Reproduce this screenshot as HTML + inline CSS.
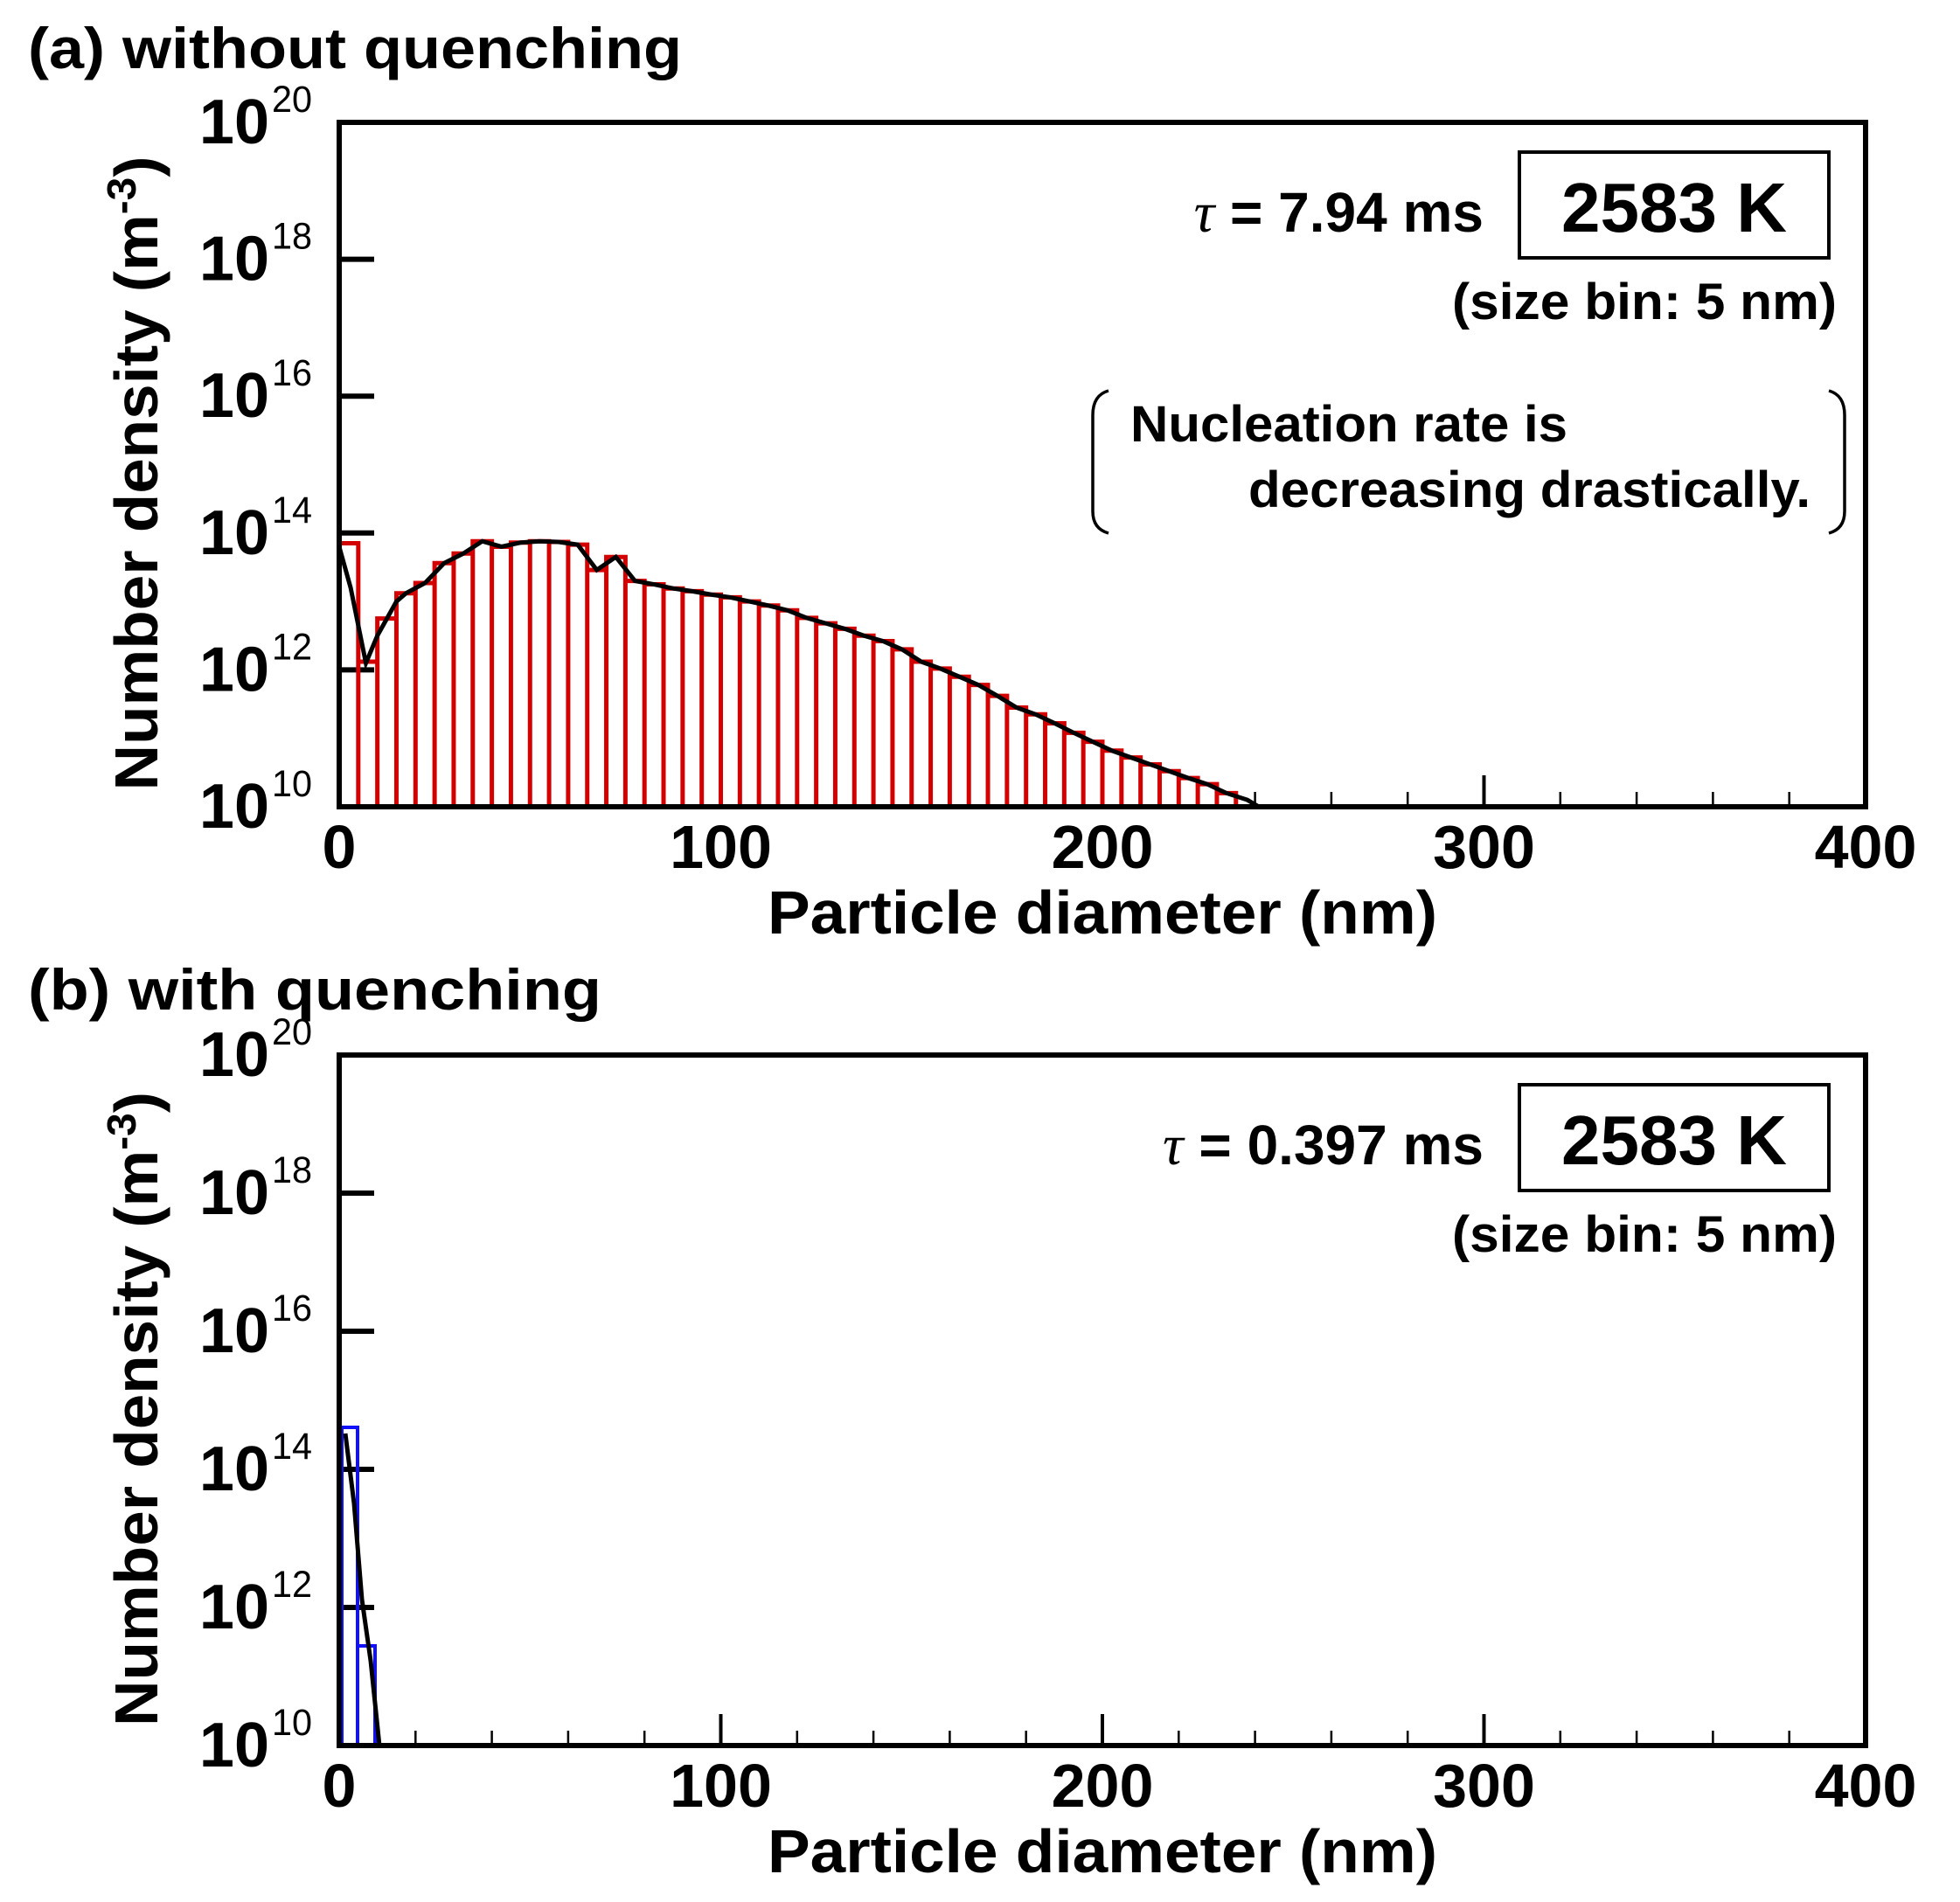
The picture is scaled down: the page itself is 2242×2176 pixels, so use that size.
<!DOCTYPE html>
<html><head><meta charset="utf-8"><style>
html,body{margin:0;padding:0;background:#fff;}
svg{display:block;}
text{font-family:"Liberation Sans",Arial,sans-serif;}
</style></head><body>
<svg id="s" width="2242" height="2176" viewBox="0 0 2242 2176" xmlns="http://www.w3.org/2000/svg">
<rect width="2242" height="2176" fill="#fff"/>
<g id="pa"></g>
<g id="pb"></g>
<text x="32" y="78" font-size="66" font-weight="bold" textLength="748" lengthAdjust="spacingAndGlyphs">(a) without quenching</text>
<text x="32" y="1155" font-size="66" font-weight="bold" textLength="656" lengthAdjust="spacingAndGlyphs">(b) with quenching</text>
</svg>
<script>
const NS="http://www.w3.org/2000/svg";
function el(p,t,a,txt){const e=document.createElementNS(NS,t);for(const k in a)e.setAttribute(k,a[k]);if(txt!==undefined)e.textContent=txt;p.appendChild(e);return e;}
const L=388,R=2134,PX=(R-L)/400;
function panel(g,top,bot,tau,tauX,showNote){
  const dec=(bot-top)/10;
  const Y=v=>bot-(v-10)*dec, X=d=>L+d*PX;
  g.Y=Y;g.X=X;
  for(let e=10;e<=20;e+=2){
    const y=Y(e);
    if(e>10&&e<20) el(g,'line',{x1:L,y1:y,x2:L+40,y2:y,stroke:'#000','stroke-width':6});
    el(g,'text',{x:308,y:y+24,'font-size':72,'font-weight':'bold','text-anchor':'end'},'10');
    el(g,'text',{x:311,y:y-12,'font-size':43,textLength:46,lengthAdjust:'spacingAndGlyphs'},String(e));
  }
  for(let d=20;d<400;d+=20){
    const x=X(d);const maj=d%100===0;
    el(g,'line',{x1:x,y1:bot,x2:x,y2:bot-(maj?36:17),stroke:'#000','stroke-width':maj?4:2.5});
  }
  for(let d=0;d<=400;d+=100){
    el(g,'text',{x:X(d),y:bot+70,'font-size':70,'font-weight':'bold','text-anchor':'middle'},String(d));
  }
  el(g,'text',{x:878,y:bot+145,'font-size':70,'font-weight':'bold',textLength:766,lengthAdjust:'spacingAndGlyphs'},'Particle diameter (nm)');
  const yl=el(g,'text',{x:0,y:0,'font-size':70,'font-weight':'bold','text-anchor':'middle',transform:`translate(180,${(top+bot)/2+10}) rotate(-90)`,textLength:726,lengthAdjust:'spacingAndGlyphs'});
  yl.appendChild(document.createTextNode('Number density (m'));
  el(yl,'tspan',{dy:-25,'font-size':46},'-3');
  el(yl,'tspan',{dy:25},')');
  const tt=el(g,'text',{x:1697,y:top+125,'font-size':64,'font-weight':'bold','text-anchor':'end'});
  el(tt,'tspan',{'font-family':'"Liberation Serif",serif','font-style':'italic','font-weight':'normal','font-size':66},'τ');
  tt.appendChild(document.createTextNode(' = '+tau+' ms'));
  el(g,'rect',{x:1738,y:top+34,width:354,height:121,fill:'none',stroke:'#000','stroke-width':4});
  el(g,'text',{x:1915,y:top+125,'font-size':80,'font-weight':'bold','text-anchor':'middle'},'2583 K');
  el(g,'text',{x:2101,y:top+225,'font-size':58,'font-weight':'bold','text-anchor':'end',textLength:440,lengthAdjust:'spacingAndGlyphs'},'(size bin: 5 nm)');
  if(showNote){
    el(g,'text',{x:1293,y:top+365,'font-size':58,'font-weight':'bold',textLength:500,lengthAdjust:'spacingAndGlyphs'},'Nucleation rate is');
    el(g,'text',{x:1428,y:top+440,'font-size':58,'font-weight':'bold',textLength:643,lengthAdjust:'spacingAndGlyphs'},'decreasing drastically.');
    el(g,'path',{d:`M1268 ${top+307} Q1250 ${top+312} 1250 ${top+335} L1250 ${top+445} Q1250 ${top+465} 1268 ${top+470}`,fill:'none',stroke:'#000','stroke-width':3.5});
    el(g,'path',{d:`M2092 ${top+307} Q2110 ${top+312} 2110 ${top+335} L2110 ${top+445} Q2110 ${top+465} 2092 ${top+470}`,fill:'none',stroke:'#000','stroke-width':3.5});
  }
  return g;
}
const ga=panel(document.getElementById('pa'),140,923,'7.94',0,true);
const gb=panel(document.getElementById('pb'),1207,1997,'0.397',0,false);
const va=[13.85,12.12,12.75,13.12,13.27,13.56,13.70,13.88,13.80,13.86,13.88,13.87,13.83,13.46,13.65,13.30,13.25,13.19,13.15,13.10,13.06,13.0,12.94,12.87,12.76,12.68,12.6,12.5,12.42,12.3,12.12,12.02,11.9,11.78,11.62,11.45,11.35,11.22,11.08,10.95,10.82,10.72,10.62,10.52,10.42,10.33,10.2];
let d='';
va.forEach((v,i)=>{const x0=ga.X(i*5),x1=ga.X(i*5+5),y=ga.Y(v);d+=`M${x0} 923V${y}H${x1}V923`;});
el(ga,'path',{d:d,fill:'none',stroke:'#d40000','stroke-width':5});
let pts=[[0,13.8],[3,13.2],[7,12.1],[10,12.5],[15,13.0]];
va.forEach((v,i)=>{if(i>=3)pts.push([i*5+2.5,v]);});
pts.push([238,10.1],[241,10]);
el(ga,'polyline',{points:pts.map(p=>ga.X(p[0])+','+ga.Y(p[1])).join(' '),fill:'none',stroke:'#000','stroke-width':5});
el(gb,'path',{d:`M391 1997V1633H409V1997M409 1997V1883H429V1997`,fill:'none',stroke:'#1010ff','stroke-width':4});
el(gb,'polyline',{points:'395,1640 405,1720 414,1830 424,1900 434,1997',fill:'none',stroke:'#000','stroke-width':5});
[[140,923],[1207,1997]].forEach(([t,b])=>{
  const g=document.getElementById('s');
  el(g,'rect',{x:L,y:t,width:R-L,height:b-t,fill:'none',stroke:'#000','stroke-width':6});
});
</script>
</body></html>
